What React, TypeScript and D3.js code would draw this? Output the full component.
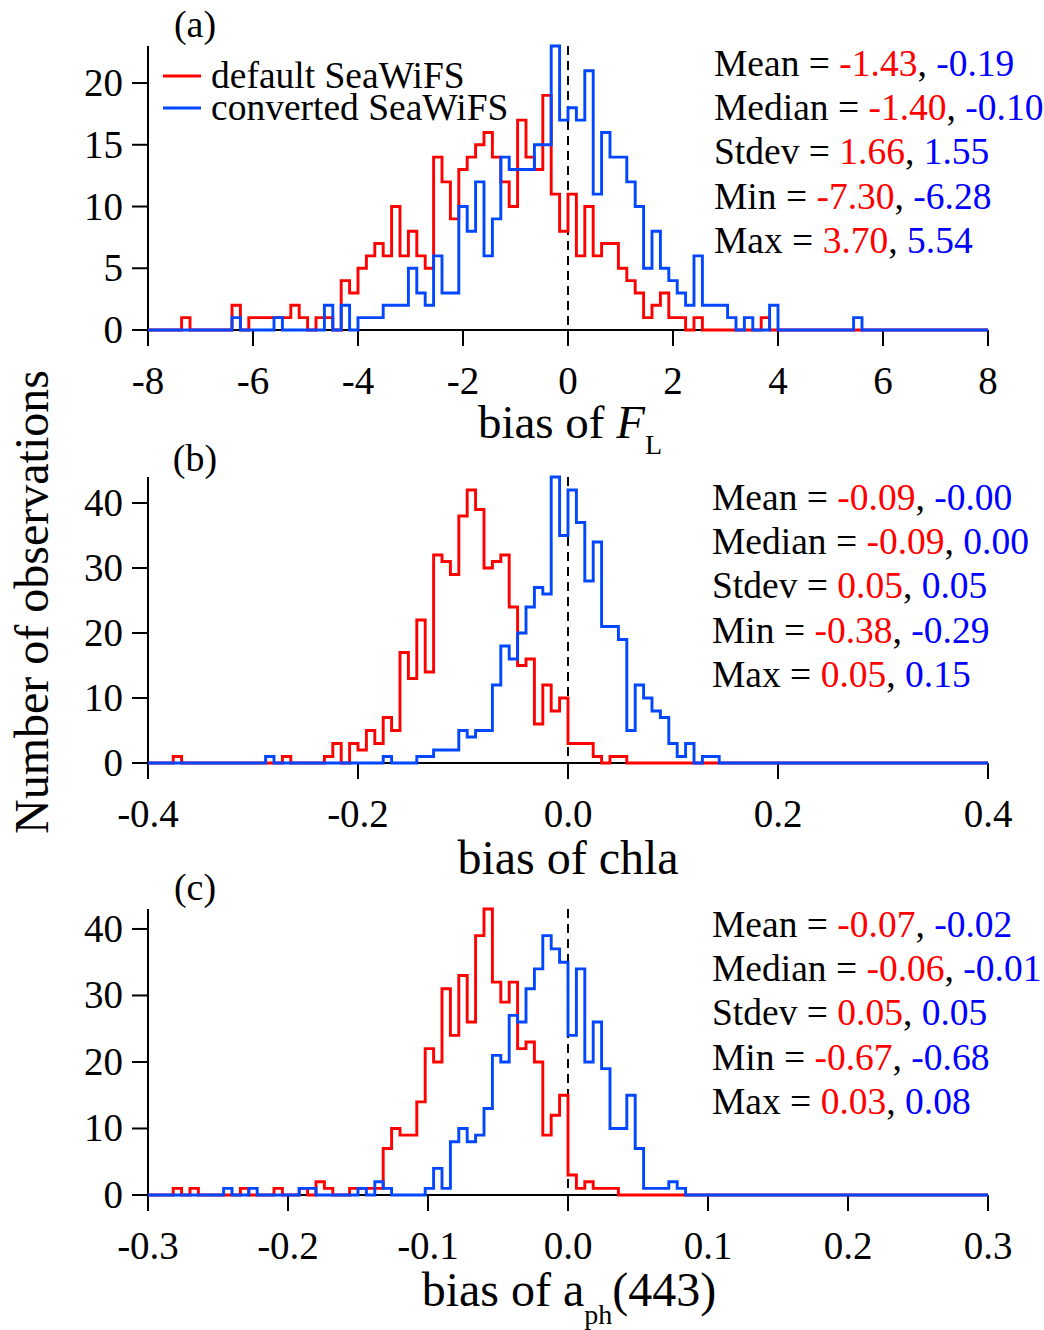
import React from "react";
import * as d3 from "d3";

// ---------- DATA ----------
// 100 equal-width bins across each x-domain
const countsA_default = [
  0,0,0,0,1,0,0,0,0,0,
  2,0,1,1,1,1,1,2,1,0,
  1,1,0,4,3,5,6,7,6,10,
  6,8,6,5,14,12,9,13,14,15,
  16,14,12,10,17,14,13,19,11,8,
  11,6,10,6,7,7,5,4,3,1,
  2,3,1,1,0,1,0,0,0,0,
  0,0,0,1,0,0,0,0,0,0,
  0,0,0,0,0,0,0,0,0,0,
  0,0,0,0,0,0,0,0,0,0,
];
const countsA_converted = [
  0,0,0,0,0,0,0,0,0,0,
  1,0,0,0,0,1,0,0,0,0,
  0,2,0,2,0,1,1,1,2,2,
  2,5,3,2,6,3,3,10,8,12,
  6,9,14,13,13,13,15,15,23,17,
  18,17,21,11,16,14,14,12,10,5,
  8,5,4,3,2,6,2,2,2,1,
  0,1,0,0,2,0,0,0,0,0,
  0,0,0,0,1,0,0,0,0,0,
  0,0,0,0,0,0,0,0,0,0,
];
const countsB_default = [
  0,0,0,1,0,0,0,0,0,0,
  0,0,0,0,0,0,1,0,0,0,
  0,1,3,0,3,2,5,3,7,5,
  17,13,22,14,32,31,29,38,42,39,
  30,31,32,24,15,16,6,12,8,10,
  3,3,3,1,0,1,1,0,0,0,
  0,0,0,0,0,0,0,0,0,0,
  0,0,0,0,0,0,0,0,0,0,
  0,0,0,0,0,0,0,0,0,0,
  0,0,0,0,0,0,0,0,0,0,
];
const countsB_converted = [
  0,0,0,0,0,0,0,0,0,0,
  0,0,0,0,1,0,0,0,0,0,
  0,0,0,0,0,0,0,0,1,0,
  0,0,1,1,2,2,2,5,4,5,
  5,12,18,16,20,24,27,26,44,35,
  42,37,28,34,21,21,19,5,12,10,
  8,7,3,1,3,0,1,1,0,0,
  0,0,0,0,0,0,0,0,0,0,
  0,0,0,0,0,0,0,0,0,0,
  0,0,0,0,0,0,0,0,0,0,
];
const countsC_default = [
  0,0,0,1,0,1,0,0,0,0,
  0,1,0,0,0,1,0,0,1,0,
  2,1,0,0,1,1,1,1,7,10,
  9,9,14,22,20,31,24,33,26,39,
  43,32,29,32,22,23,20,9,12,15,
  3,1,2,1,1,1,0,0,0,0,
  0,0,0,0,0,0,0,0,0,0,
  0,0,0,0,0,0,0,0,0,0,
  0,0,0,0,0,0,0,0,0,0,
  0,0,0,0,0,0,0,0,0,0,
];
const countsC_converted = [
  0,0,0,0,0,0,0,0,0,1,
  0,0,1,0,0,0,0,0,1,1,
  0,0,0,0,0,1,0,2,1,0,
  0,0,0,1,4,1,8,10,8,9,
  13,21,20,27,26,31,34,39,37,35,
  24,34,20,26,19,10,10,15,7,1,
  1,1,2,1,0,0,0,0,0,0,
  0,0,0,0,0,0,0,0,0,0,
  0,0,0,0,0,0,0,0,0,0,
  0,0,0,0,0,0,0,0,0,0,
];

const xTicksA = [-8, -6, -4, -2, 0, 2, 4, 6, 8];
const xTickLabelsA = ["-8", "-6", "-4", "-2", "0", "2", "4", "6", "8"];
const yTicksA = [0, 5, 10, 15, 20];
const xTicksB = [-0.4, -0.2, 0, 0.2, 0.4];
const xTickLabelsB = ["-0.4", "-0.2", "0.0", "0.2", "0.4"];
const yTicksB = [0, 10, 20, 30, 40];
const xTicksC = [-0.3, -0.2, -0.1, 0, 0.1, 0.2, 0.3];
const xTickLabelsC = ["-0.3", "-0.2", "-0.1", "0.0", "0.1", "0.2", "0.3"];
const yTicksC = [0, 10, 20, 30, 40];

const statNames = ["Mean", "Median", "Stdev", "Min", "Max"];
const statsA_default = ["-1.43", "-1.40", "1.66", "-7.30", "3.70"];
const statsA_converted = ["-0.19", "-0.10", "1.55", "-6.28", "5.54"];
const statsB_default = ["-0.09", "-0.09", "0.05", "-0.38", "0.05"];
const statsB_converted = ["-0.00", "0.00", "0.05", "-0.29", "0.15"];
const statsC_default = ["-0.07", "-0.06", "0.05", "-0.67", "0.03"];
const statsC_converted = ["-0.02", "-0.01", "0.05", "-0.68", "0.08"];

const legendLabels = ["default SeaWiFS", "converted SeaWiFS"];

// ---------- STYLE ----------
const RED = "#ff0000";
const BLUE = "#0047ff";
const TXT_BLUE = "#0000ff";
const FONT = "'Liberation Serif', 'Times New Roman', serif";
const TICK_FS = 39;
const STAT_FS = 37.5;

const X0 = 148;
const X1 = 988;

type PanelProps = {
  xDomain: [number, number];
  yMax: number;
  baseY: number;
  topY: number;
  xTicks: number[];
  xTickLabels: string[];
  yTicks: number[];
  red: number[];
  blue: number[];
  label: string;
  labelY: number;
  statsX: number;
  statsY0: number;
  statsRed: string[];
  statsBlue: string[];
};

function Panel(p: PanelProps) {
  const x = d3.scaleLinear().domain(p.xDomain).range([X0, X1]);
  const y = d3.scaleLinear().domain([0, p.yMax]).range([p.baseY, p.topY]);
  const n = p.red.length;
  const binW = (p.xDomain[1] - p.xDomain[0]) / n;
  const mkPts = (arr: number[]) => {
    const pts: [number, number][] = arr.map((c, i) => [p.xDomain[0] + i * binW, c]);
    pts.push([p.xDomain[1], arr[arr.length - 1]]);
    return pts;
  };
  const line = d3
    .line<[number, number]>()
    .x((d) => x(d[0]))
    .y((d) => y(d[1]))
    .curve(d3.curveStepAfter);
  const tickLen = 16;
  return (
    <g>
      {/* axes */}
      <line x1={X0} x2={X0} y1={p.topY} y2={p.baseY + tickLen} stroke="#000" strokeWidth={2} />
      <line x1={X0} x2={X1} y1={p.baseY} y2={p.baseY} stroke="#000" strokeWidth={2} />
      {p.yTicks.map((t) => (
        <g key={"y" + t}>
          <line x1={X0 - tickLen} x2={X0} y1={y(t)} y2={y(t)} stroke="#000" strokeWidth={2} />
          <text x={X0 - 25} y={y(t) + 13} textAnchor="end" fontSize={TICK_FS} fontFamily={FONT}>
            {t}
          </text>
        </g>
      ))}
      {p.xTicks.map((t, i) => (
        <g key={"x" + i}>
          <line x1={x(t)} x2={x(t)} y1={p.baseY} y2={p.baseY + tickLen} stroke="#000" strokeWidth={2} />
          <text x={x(t)} y={p.baseY + 64} textAnchor="middle" fontSize={TICK_FS} fontFamily={FONT}>
            {p.xTickLabels[i]}
          </text>
        </g>
      ))}
      {/* zero dashed line */}
      <line
        x1={x(0)}
        x2={x(0)}
        y1={p.topY}
        y2={p.baseY}
        stroke="#000"
        strokeWidth={2}
        strokeDasharray="9,6"
      />
      <path d={line(mkPts(p.red)) || ""} fill="none" stroke={RED} strokeWidth={2.9} />
      <path d={line(mkPts(p.blue)) || ""} fill="none" stroke={BLUE} strokeWidth={2.9} />
      {/* panel label */}
      <text x={195} y={p.labelY} textAnchor="middle" fontSize={38} fontFamily={FONT}>
        {p.label}
      </text>
      {/* stats */}
      {statNames.map((s, i) => (
        <text key={s} x={p.statsX} y={p.statsY0 + i * 44.2} fontSize={STAT_FS} fontFamily={FONT}>
          <tspan fill="#000">{s + " = "}</tspan>
          <tspan fill={RED}>{p.statsRed[i]}</tspan>
          <tspan fill="#000">{", "}</tspan>
          <tspan fill={TXT_BLUE}>{p.statsBlue[i]}</tspan>
        </text>
      ))}
    </g>
  );
}

export default function App() {
  return (
    <svg
      width={1044}
      height={1330}
      style={{ position: "absolute", left: 0, top: 0, background: "#fff" }}
    >
      <rect width={1044} height={1330} fill="#fff" />
      <Panel
        xDomain={[-8, 8]}
        yMax={23}
        baseY={330}
        topY={46}
        xTicks={xTicksA}
        xTickLabels={xTickLabelsA}
        yTicks={yTicksA}
        red={countsA_default}
        blue={countsA_converted}
        label="(a)"
        labelY={37}
        statsX={714}
        statsY0={76}
        statsRed={statsA_default}
        statsBlue={statsA_converted}
      />
      <Panel
        xDomain={[-0.4, 0.4]}
        yMax={44}
        baseY={763}
        topY={477}
        xTicks={xTicksB}
        xTickLabels={xTickLabelsB}
        yTicks={yTicksB}
        red={countsB_default}
        blue={countsB_converted}
        label="(b)"
        labelY={471}
        statsX={712}
        statsY0={510}
        statsRed={statsB_default}
        statsBlue={statsB_converted}
      />
      <Panel
        xDomain={[-0.3, 0.3]}
        yMax={43}
        baseY={1195}
        topY={909}
        xTicks={xTicksC}
        xTickLabels={xTickLabelsC}
        yTicks={yTicksC}
        red={countsC_default}
        blue={countsC_converted}
        label="(c)"
        labelY={900}
        statsX={712}
        statsY0={937}
        statsRed={statsC_default}
        statsBlue={statsC_converted}
      />
      {/* legend */}
      <line x1={163} x2={201} y1={76} y2={76} stroke={RED} strokeWidth={2.9} />
      <line x1={163} x2={201} y1={108} y2={108} stroke={BLUE} strokeWidth={2.9} />
      <text x={211} y={88} fontSize={STAT_FS} fontFamily={FONT}>{legendLabels[0]}</text>
      <text x={211} y={120} fontSize={STAT_FS} fontFamily={FONT}>{legendLabels[1]}</text>
      {/* axis titles */}
      <text x={570} y={438} textAnchor="middle" fontSize={47} fontFamily={FONT}>
        bias of <tspan fontStyle="italic">F</tspan>
        <tspan dy={16} fontSize={28}>L</tspan>
      </text>
      <text x={568} y={874} textAnchor="middle" fontSize={48} fontFamily={FONT}>
        bias of chla
      </text>
      <text x={569} y={1306} textAnchor="middle" fontSize={48} fontFamily={FONT}>
        bias of a<tspan dy={18} fontSize={28}>ph</tspan>
        <tspan dy={-18}>(443)</tspan>
      </text>
      <text
        transform="translate(48,602) rotate(-90)"
        textAnchor="middle"
        fontSize={48}
        fontFamily={FONT}
      >
        Number of observations
      </text>
    </svg>
  );
}
